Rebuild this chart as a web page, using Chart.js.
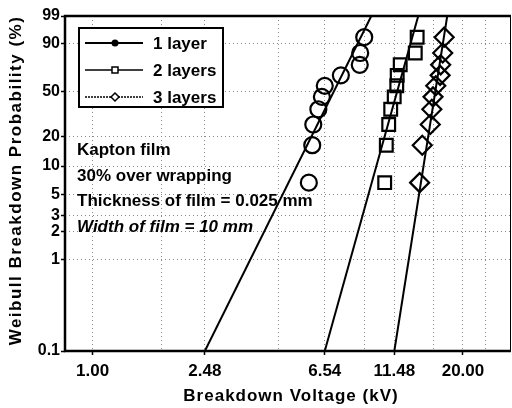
<!DOCTYPE html>
<html lang="en">
<head>
    <meta charset="UTF-8">
    <title>Weibull plot - Kapton film</title>
    <script src="https://cdnjs.cloudflare.com/ajax/libs/Chart.js/4.4.1/chart.umd.min.js"></script>
    <style>
        body { margin: 0; padding: 0; background: #fff; }
        canvas { display: block; }
    </style>
</head>
<body>
    <canvas id="weibullChart" width="512" height="408"></canvas>

    <script>
        // median ranks (%) shared by the three series
        const probs = [6.7, 16.3, 25.9, 35.6, 45.2, 54.8, 64.4, 74.0, 83.7, 93.3];
        // breakdown voltages (kV)
        const layer1 = [5.75, 5.91, 5.96, 6.21, 6.39, 6.54, 7.45, 8.68, 8.71, 9.00];
        const layer2 = [10.62, 10.76, 10.97, 11.15, 11.47, 11.71, 11.75, 12.04, 13.60, 13.81];
        const layer3 = [14.09, 14.39, 15.35, 15.55, 15.70, 16.05, 16.63, 16.70, 16.98, 17.18];
        const seriesLabels = ['1 layer', '2 layers', '3 layers'];

        // fitted lines: voltage at 0.1 % and at 99 %
        const fitLow = [2.48, 6.54, 11.48];
        const fitHigh = [9.53, 13.93, 17.61];

        const yTicks = [0.1, 1, 2, 3, 5, 10, 20, 50, 90, 99];
        const xGrid = [1, 1.75, 2.48, 4.5, 6.54, 9, 11.48, 15.8, 20, 24];
        const xTickLabels = [1, 2.48, 6.54, 11.48, 20];

        const xTitle = 'Breakdown Voltage (kV)';
        const yTitle = 'Weibull Breakdown Probability (%)';
        const notes = ['Kapton film', '30% over wrapping', 'Thickness of film = 0.025 mm', 'Width of film = 10 mm'];

        // Weibull probability transform
        function w(p) { return Math.log(-Math.log(1 - p / 100)); }

        function points(volts) {
            return volts.map((v, i) => ({ x: v, y: w(probs[i]) }));
        }

        const FONT = 'Arial, "Liberation Sans", sans-serif';
        const markerStyles = ['circle', 'rect', 'rectRot'];
        const markerRadius = [8, 9, 9.5];
        const legendDash = [[], [], [2, 1]];

        const datasets = [];
        [layer1, layer2, layer3].forEach((s, i) => {
            datasets.push({
                label: seriesLabels[i],
                data: points(s),
                showLine: false,
                pointStyle: markerStyles[i],
                pointRadius: markerRadius[i],
                pointBorderWidth: 2.2,
                pointBorderColor: '#000',
                pointBackgroundColor: 'rgba(0,0,0,0)',
                inLegend: true
            });
        });
        fitLow.forEach((v, i) => {
            datasets.push({
                label: 'fit ' + seriesLabels[i],
                data: [{ x: v, y: w(0.1) }, { x: fitHigh[i], y: w(99) }],
                showLine: true,
                borderColor: '#000',
                borderWidth: 2,
                pointRadius: 0
            });
        });

        const frame = {
            id: 'frame',
            afterDraw(chart) {
                const { ctx, chartArea: a } = chart;
                ctx.save();
                ctx.strokeStyle = '#000';
                ctx.lineWidth = 2.5;
                ctx.beginPath();
                ctx.moveTo(a.right, a.top);
                ctx.lineTo(a.left, a.top);
                ctx.lineTo(a.left, a.bottom);
                ctx.lineTo(a.right, a.bottom);
                ctx.stroke();
                ctx.lineWidth = 1;
                ctx.beginPath();
                ctx.moveTo(a.right - 0.5, a.top);
                ctx.lineTo(a.right - 0.5, a.bottom);
                ctx.stroke();

                // axis titles
                ctx.fillStyle = '#000';
                ctx.font = 'bold 17px ' + FONT;
                ctx.textAlign = 'center';
                ctx.textBaseline = 'middle';
                ctx.letterSpacing = '1px';
                ctx.fillText(xTitle, 291, 396);
                ctx.translate(16, (a.top + a.bottom) / 2 - 3);
                ctx.rotate(-Math.PI / 2);
                ctx.letterSpacing = '1.5px';
                ctx.fillText(yTitle, 0, 0);
                ctx.restore();
            }
        };

        const legendBox = {
            id: 'legendBox',
            afterDraw(chart) {
                const ctx = chart.ctx;
                const x0 = 79, y0 = 28, bw = 144, bh = 79;
                ctx.save();
                ctx.fillStyle = '#fff';
                ctx.fillRect(x0, y0, bw, bh);
                ctx.strokeStyle = '#000';
                ctx.lineWidth = 2;
                ctx.strokeRect(x0, y0, bw, bh);
                chart.data.datasets.filter(d => d.inLegend).forEach((d, k) => {
                    const y = 43 + k * 27;
                    ctx.strokeStyle = '#000';
                    ctx.lineWidth = k === 0 ? 2 : 1.5;
                    ctx.setLineDash(legendDash[k]);
                    ctx.beginPath();
                    ctx.moveTo(85, y);
                    ctx.lineTo(143, y);
                    ctx.stroke();
                    ctx.setLineDash([]);
                    ctx.lineWidth = 1.5;
                    ctx.beginPath();
                    if (d.pointStyle === 'circle') {
                        ctx.arc(115, y, 3.5, 0, Math.PI * 2);
                        ctx.fillStyle = '#000';
                        ctx.fill();
                    } else if (d.pointStyle === 'rect') {
                        ctx.fillStyle = '#fff';
                        ctx.rect(112, y - 3, 6, 6);
                        ctx.fill();
                        ctx.stroke();
                    } else {
                        ctx.fillStyle = '#fff';
                        ctx.moveTo(115, y - 4);
                        ctx.lineTo(119, y);
                        ctx.lineTo(115, y + 4);
                        ctx.lineTo(111, y);
                        ctx.closePath();
                        ctx.fill();
                        ctx.stroke();
                    }
                    ctx.fillStyle = '#000';
                    ctx.font = 'bold 17px ' + FONT;
                    ctx.textBaseline = 'middle';
                    ctx.fillText(d.label, 153, y + 1);
                });
                ctx.restore();
            }
        };

        const noteText = {
            id: 'noteText',
            afterDraw(chart) {
                const ctx = chart.ctx;
                ctx.save();
                ctx.fillStyle = '#000';
                ctx.textBaseline = 'alphabetic';
                notes.forEach((t, i) => {
                    ctx.font = (i === 3 ? 'italic ' : '') + 'bold 17px ' + FONT;
                    ctx.fillText(t, 77, 155 + i * 25.5);
                });
                ctx.restore();
            }
        };

        new Chart(document.getElementById('weibullChart'), {
            type: 'scatter',
            data: { datasets: datasets },
            options: {
                responsive: false,
                animation: false,
                layout: { autoPadding: false, padding: { top: 16, right: 1, left: 0, bottom: 0 } },
                plugins: {
                    legend: { display: false },
                    tooltip: { enabled: false }
                },
                scales: {
                    x: {
                        type: 'logarithmic',
                        min: 0.8,
                        max: 29.5,
                        afterBuildTicks(scale) {
                            scale.ticks = xGrid.map(v => ({ value: v }));
                        },
                        afterFit(scale) {
                            scale.height = 57;
                            scale.paddingLeft = 0;
                            scale.paddingRight = 0;
                        },
                        ticks: {
                            autoSkip: false,
                            maxRotation: 0,
                            padding: 6,
                            color: '#000',
                            font: { family: FONT, size: 17, weight: 'bold' },
                            callback: v => xTickLabels.includes(v) ? v.toFixed(2) : ''
                        },
                        grid: {
                            color: '#888',
                            lineWidth: 1,
                            tickLength: 4,
                            tickWidth: 1.5,
                            tickColor: c => xTickLabels.includes(c.tick && c.tick.value) ? '#000' : 'rgba(0,0,0,0)'
                        },
                        border: { display: false, dash: [1, 3] }
                    },
                    y: {
                        type: 'linear',
                        min: w(0.1),
                        max: w(99),
                        afterBuildTicks(scale) {
                            scale.ticks = yTicks.map(p => ({ value: w(p) }));
                        },
                        afterFit(scale) { scale.width = 65; },
                        ticks: {
                            padding: 1,
                            color: '#000',
                            font: { family: FONT, size: 16, weight: 'bold' },
                            callback: (v, i) => String(yTicks[i])
                        },
                        grid: {
                            color: '#888',
                            lineWidth: 1,
                            tickLength: 4,
                            tickWidth: 1.5,
                            tickColor: '#000'
                        },
                        border: { display: false, dash: [1, 3] }
                    }
                }
            },
            plugins: [frame, legendBox, noteText]
        });
    </script>
</body>
</html>
